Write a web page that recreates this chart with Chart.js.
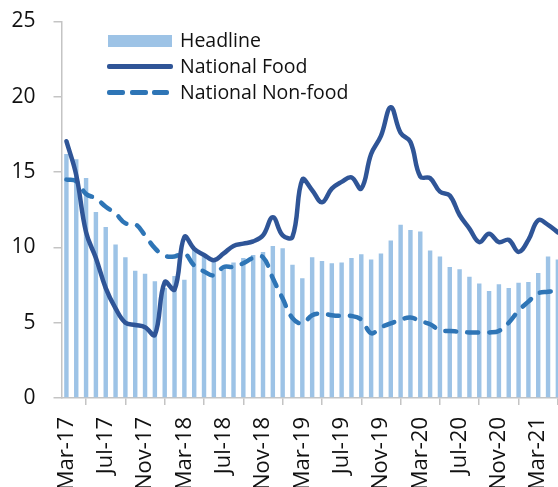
<!DOCTYPE html>
<html>
<head>
<meta charset="utf-8">
<script src="https://cdn.jsdelivr.net/npm/chart.js@4.4.1/dist/chart.umd.min.js"></script>
<style>
    html, body { margin: 0; padding: 0; background: #fff; overflow: hidden; }
    #wrap { position: relative; width: 566px; height: 505px; }
    #legend { position: absolute; left: 106px; top: 27px; font-family: 'Open Sans', sans-serif; font-size: 19.5px; color: #111; }
    .row { position: relative; height: 26px; line-height: 26px; padding-left: 74px; white-space: nowrap; }
    .sw { position: absolute; left: 0; }
</style>
</head>
<body>
<div id="wrap">
    <canvas id="chart" width="566" height="505"></canvas>
    <div id="legend">
        <div class="row"><span class="sw" style="left:2px;top:8px;width:64px;height:12px;background:#9dc3e6"></span>Headline</div>
        <div class="row"><span class="sw" style="left:1px;top:11px;width:66px;height:4.5px;border-radius:2px;background:#2f5597"></span>National Food</div>
        <div class="row">
            <span class="sw" style="left:1px;top:11px;width:18px;height:4.5px;border-radius:2px;background:#2e75b6"></span>
            <span class="sw" style="left:24px;top:11px;width:18px;height:4.5px;border-radius:2px;background:#2e75b6"></span>
            <span class="sw" style="left:46px;top:11px;width:17px;height:4.5px;border-radius:2px;background:#2e75b6"></span>National Non-food</div>
    </div>
</div>
<script>
// months Mar-17 .. May-21
const months = [
    'Mar-17', 'Apr-17', 'May-17', 'Jun-17', 'Jul-17', 'Aug-17', 'Sep-17', 'Oct-17', 'Nov-17', 'Dec-17',
    'Jan-18', 'Feb-18', 'Mar-18', 'Apr-18', 'May-18', 'Jun-18', 'Jul-18', 'Aug-18', 'Sep-18', 'Oct-18',
    'Nov-18', 'Dec-18', 'Jan-19', 'Feb-19', 'Mar-19', 'Apr-19', 'May-19', 'Jun-19', 'Jul-19', 'Aug-19',
    'Sep-19', 'Oct-19', 'Nov-19', 'Dec-19', 'Jan-20', 'Feb-20', 'Mar-20', 'Apr-20', 'May-20', 'Jun-20',
    'Jul-20', 'Aug-20', 'Sep-20', 'Oct-20', 'Nov-20', 'Dec-20', 'Jan-21', 'Feb-21', 'Mar-21', 'Apr-21',
    'May-21'
];

const headline = [
    16.2, 15.85, 14.6, 12.35, 11.35, 10.2, 9.35, 8.45, 8.25, 7.75,
    7.3, 8.1, 7.85, 9.9, 9.4, 9.05, 8.7, 9.0, 9.3, 9.5,
    9.7, 10.1, 9.95, 8.85, 7.95, 9.35, 9.1, 8.95, 9.0, 9.3,
    9.55, 9.2, 9.6, 10.45, 11.5, 11.15, 11.05, 9.8, 9.4, 8.7,
    8.55, 8.05, 7.6, 7.1, 7.55, 7.3, 7.65, 7.7, 8.3, 9.4,
    9.2
];

const nationalFood = [
    17.05, 14.8, 11.0, 9.3, 7.3, 5.95, 5.0, 4.85, 4.7, 4.2,
    7.7, 7.2, 10.7, 9.9, 9.5, 9.15, 9.6, 10.1, 10.25, 10.4,
    10.8, 12.0, 10.8, 10.7, 14.5, 13.8, 13.0, 13.9, 14.35, 14.65,
    13.9, 16.2, 17.4, 19.3, 17.6, 17.0, 14.7, 14.6, 13.7, 13.45,
    12.15, 11.25, 10.35, 10.9, 10.35, 10.5, 9.7, 10.5, 11.8, 11.5,
    11.0
];

const nationalNonFood = [
    14.5, 14.4, 13.55, 13.25, 12.7, 12.25, 11.6, 11.55, 10.8, 9.95,
    9.45, 9.4, 9.6, 8.8, 8.4, 8.15, 8.7, 8.7, 8.95, 9.3,
    9.35, 7.95, 6.6, 5.3, 4.95, 5.5, 5.6, 5.5, 5.45, 5.45,
    5.2, 4.3, 4.7, 4.95, 5.2, 5.35, 5.1, 4.9, 4.5, 4.45,
    4.4, 4.35, 4.35, 4.35, 4.45, 5.0, 5.8, 6.4, 6.95, 7.05,
    7.15
];

const yTicks = [0, 5, 10, 15, 20, 25];

const axisColor = '#c4c4c4';

new Chart(document.getElementById('chart'), {
    type: 'bar',
    data: {
        labels: months,
        datasets: [
            {
                type: 'line',
                label: 'National Food',
                data: nationalFood,
                borderColor: '#2f5597',
                borderWidth: 4.5,
                tension: 0.4,
                pointRadius: 0,
                borderCapStyle: 'round',
                borderJoinStyle: 'round',
                order: 1,
            },
            {
                type: 'line',
                label: 'National Non-food',
                data: nationalNonFood,
                borderColor: '#2e75b6',
                borderWidth: 4.5,
                borderDash: [11, 11],
                borderCapStyle: 'round',
                tension: 0.4,
                pointRadius: 0,
                order: 2,
            },
            {
                label: 'Headline',
                data: headline,
                backgroundColor: '#9dc3e6',
                barPercentage: 0.45,
                categoryPercentage: 1,
                order: 3,
            },
        ],
    },
    options: {
        responsive: false,
        animation: false,
        layout: { padding: { top: 21.5, right: 3.2, bottom: 0, left: 0 } },
        plugins: {
            legend: { display: false },
            tooltip: { enabled: false },
        },
        scales: {
            x: {
                offset: true,
                grid: {
                    offset: true,
                    drawOnChartArea: false,
                    color: axisColor,
                    lineWidth: 1.5,
                    tickLength: 7,
                },
                border: { color: axisColor, width: 1.5 },
                ticks: {
                    autoSkip: false,
                    maxRotation: 90,
                    minRotation: 90,
                    padding: 12,
                    color: '#111',
                    font: { family: "'Open Sans', sans-serif", size: 22 },
                    callback: (v, i) => (i % 4 === 0 ? months[i] : null),
                },
                afterFit: (scale) => {
                    scale.height = 505 - 398;
                    scale.paddingLeft = 0;
                    scale.paddingRight = 0;
                },
            },
            y: {
                min: 0,
                max: 25,
                afterBuildTicks: (scale) => { scale.ticks = yTicks.map((v) => ({ value: v })); },
                grid: {
                    drawOnChartArea: false,
                    color: axisColor,
                    lineWidth: 1.5,
                    tickLength: 8,
                },
                border: { color: axisColor, width: 1.5 },
                ticks: {
                    padding: 18,
                    color: '#111',
                    font: { family: "'Open Sans', sans-serif", size: 21 },
                },
                afterFit: (scale) => {
                    scale.width = 61.5;
                    scale.paddingTop = 0;
                    scale.paddingBottom = 0;
                },
            },
        },
    },
});
</script>
</body>
</html>
